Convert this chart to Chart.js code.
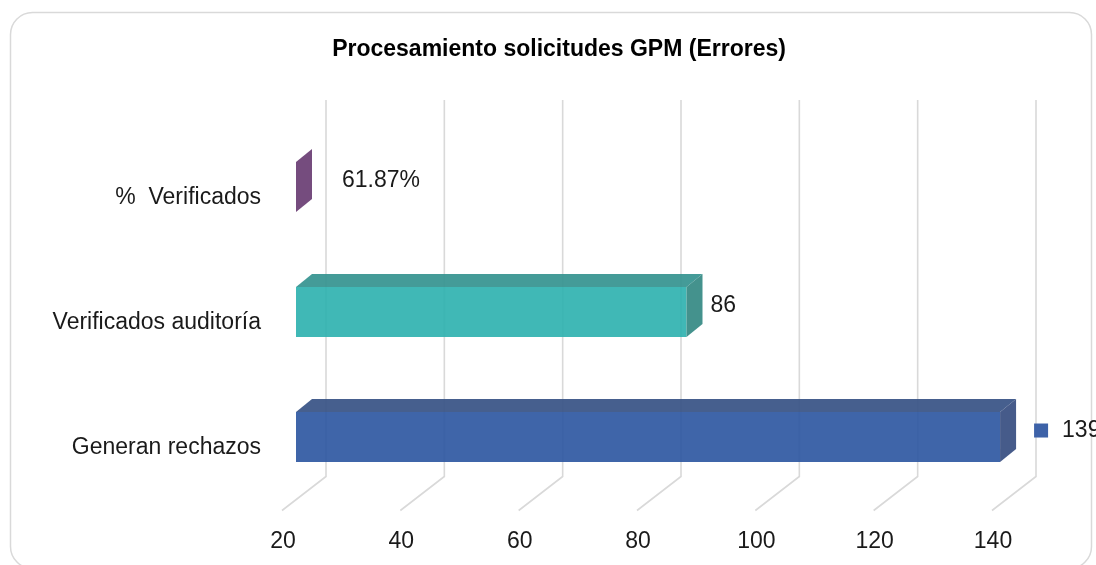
<!DOCTYPE html>
<html>
<head>
<meta charset="utf-8">
<script src="https://cdn.jsdelivr.net/npm/chart.js@4.4.1/dist/chart.umd.min.js"></script>
<style>
  html, body { margin: 0; padding: 0; background: #fff; }
  #wrap { width: 1096px; height: 565px; }
</style>
</head>
<body>
<div id="wrap"><canvas id="gpmChart" width="1096" height="565"></canvas></div>
<script>
// datos del grafico
const categorias = ['%  Verificados', 'Verificados auditoría', 'Generan rechazos'];
const valores = [0.6187, 86, 139];
const ejeMin = 20;
const ejeMax = 140;
const ejePaso = 20;

document.addEventListener("DOMContentLoaded", function () {

  // colores de cada barra: frente, techo y lado
  const colorFrente = ['rgba(117,76,126,0.92)', 'rgba(43,176,174,0.9)', 'rgba(42,84,160,0.9)'];
  const colorTecho = ['#754c7e', 'rgba(58,150,146,0.95)', 'rgba(60,86,136,0.95)'];
  const colorLado = ['#754c7e', 'rgba(58,140,135,0.95)', 'rgba(60,82,132,0.95)'];
  const colorClave = ['#754c7e', '#40b8b6', '#3d62a8'];

  const fuente = "'Liberation Sans', Arial, sans-serif";
  const prof = { dx: 16, dy: -13 };     // profundidad de la barra
  const pared = { dx: 30, dy: -23 };    // pared del fondo
  const suelo = { dx: -14, dy: 11 };    // borde frontal del suelo
  const gapEtiqueta = [30, 8, 18];
  const conClave = [false, false, true];

  const formato = (v) => v < 1 ? (v * 100).toFixed(2) + '%' : String(v);

  const barras3d = {
    id: 'barras3d',
    afterLayout(chart) {
      // el titulo se centra sobre todo el marco
      if (chart.titleBlock) {
        chart.titleBlock.left = 22;
        chart.titleBlock.right = chart.width;
      }
    },
    beforeDraw(chart) {
      // marco redondeado exterior
      const ctx = chart.ctx;
      ctx.save();
      ctx.strokeStyle = '#d9d9d9';
      ctx.lineWidth = 1.5;
      ctx.beginPath();
      ctx.roundRect(10.5, 12.5, 1081, 556, 22);
      ctx.stroke();
      ctx.restore();
    },
    beforeDatasetsDraw(chart) {
      // rejilla en la pared del fondo y en el suelo
      const ctx = chart.ctx;
      const x = chart.scales.x;
      const area = chart.chartArea;
      ctx.save();
      ctx.strokeStyle = '#d9d9d9';
      ctx.lineWidth = 1.6;
      x.ticks.forEach(t => {
        const px = x.getPixelForValue(t.value);
        const bx = px + pared.dx;
        const by = area.bottom + pared.dy;
        ctx.beginPath();
        ctx.moveTo(bx, 100);
        ctx.lineTo(bx, by);
        ctx.lineTo(px + suelo.dx, area.bottom + suelo.dy);
        ctx.stroke();
      });
      ctx.restore();
    },
    afterDatasetsDraw(chart) {
      const ctx = chart.ctx;
      const area = chart.chartArea;
      const meta = chart.getDatasetMeta(0);
      ctx.save();
      meta.data.forEach((bar, i) => {
        const p = bar.getProps(['x', 'y', 'base', 'height'], true);
        const top = p.y - p.height / 2;
        const bottom = p.y + p.height / 2;
        const x0 = Math.max(Math.min(p.base, p.x), area.left);
        const x1 = Math.max(Math.max(p.base, p.x), area.left);
        if (x1 > x0) {
          // techo
          ctx.fillStyle = colorTecho[i];
          ctx.beginPath();
          ctx.moveTo(x0, top);
          ctx.lineTo(x1, top);
          ctx.lineTo(x1 + prof.dx, top + prof.dy);
          ctx.lineTo(x0 + prof.dx, top + prof.dy);
          ctx.closePath();
          ctx.fill();
        }
        // lado
        ctx.fillStyle = colorLado[i];
        ctx.beginPath();
        ctx.moveTo(x1, top);
        ctx.lineTo(x1 + prof.dx, top + prof.dy);
        ctx.lineTo(x1 + prof.dx, bottom + prof.dy);
        ctx.lineTo(x1, bottom);
        ctx.closePath();
        ctx.fill();

        // etiqueta de dato
        let lx = x1 + prof.dx + gapEtiqueta[i];
        const ly = p.y + prof.dy / 2;
        if (conClave[i]) {
          ctx.fillStyle = colorClave[i];
          ctx.fillRect(lx, ly - 7, 14, 14);
          lx += 28;
        }
        ctx.fillStyle = '#1a1a1a';
        ctx.font = "23px " + fuente;
        ctx.textAlign = 'left';
        ctx.textBaseline = 'middle';
        ctx.fillText(formato(valores[i]), lx, ly);
      });
      ctx.restore();
    }
  };

  const ctxGpm = document.getElementById('gpmChart');
  new Chart(ctxGpm, {
    type: 'bar',
    data: {
      labels: categorias,
      datasets: [{
        label: 'Errores',
        data: valores,
        backgroundColor: colorFrente,
        borderWidth: 0,
        categoryPercentage: 0.4,
        barPercentage: 1
      }]
    },
    options: {
      indexAxis: 'y',
      responsive: false,
      animation: false,
      layout: { padding: { left: 0, right: 90, top: 0, bottom: 0 } },
      plugins: {
        legend: { display: false },
        tooltip: { enabled: false },
        title: {
          display: true,
          text: 'Procesamiento solicitudes GPM (Errores)',
          color: '#000',
          font: { family: fuente, size: 23, weight: 'bold' },
          padding: { top: 36, bottom: 61 }
        }
      },
      scales: {
        x: {
          min: ejeMin,
          max: ejeMax,
          ticks: {
            stepSize: ejePaso,
            color: '#1a1a1a',
            font: { family: fuente, size: 23 },
            labelOffset: -13,
            padding: 28,
            maxRotation: 0
          },
          grid: { display: false, drawTicks: false },
          border: { display: false },
          afterFit: (s) => { s.height = 65.5; }
        },
        y: {
          ticks: {
            color: '#1a1a1a',
            font: { family: fuente, size: 23 },
            labelOffset: 11,
            padding: 35
          },
          grid: { display: false, drawTicks: false },
          border: { display: false },
          afterFit: (s) => { s.width = 296; }
        }
      }
    },
    plugins: [barras3d]
  });

});
</script>
</body>
</html>
